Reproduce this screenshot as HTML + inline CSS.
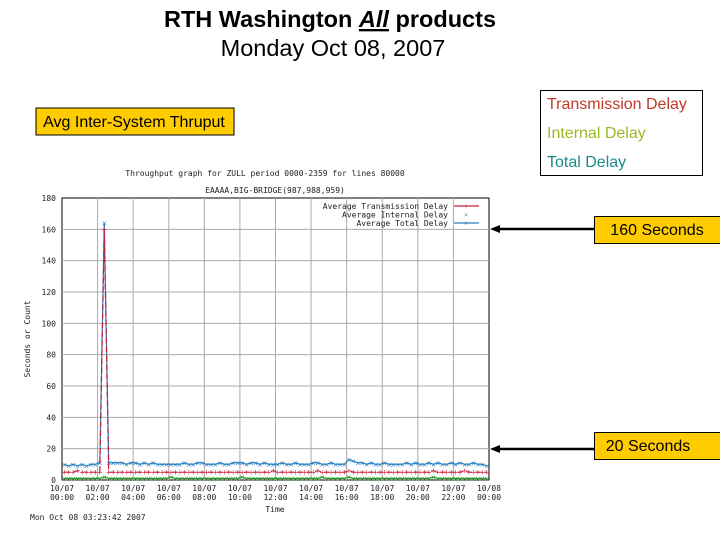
<!DOCTYPE html>
<html><head><meta charset="utf-8"><style>
body{margin:0;background:#fff}
svg{display:block}
.mono{font-family:"DejaVu Sans Mono","Liberation Mono",monospace;font-size:8px;fill:#222}
</style></head><body>
<svg id="chart" width="720" height="540" viewBox="0 0 720 540" xmlns="http://www.w3.org/2000/svg">
<text x="330" y="27" text-anchor="middle" font-family="Liberation Sans, sans-serif" font-size="23.5" font-weight="bold">RTH Washington <tspan font-style="italic" text-decoration="underline">All</tspan> products</text>
<text x="333" y="56" text-anchor="middle" font-family="Liberation Sans, sans-serif" font-size="23.5">Monday Oct 08, 2007</text>
<g><rect x="36" y="108" width="198" height="27" fill="#ffcc00" stroke="#000" stroke-width="1"/><text x="134" y="127" text-anchor="middle" font-family="Liberation Sans, sans-serif" font-size="16">Avg Inter-System Thruput</text></g>
<g><rect x="540.5" y="90.5" width="162" height="85" fill="#fff" stroke="#000"/>
<text x="547" y="109" font-family="Liberation Sans, sans-serif" font-size="16" fill="#c0392b">Transmission Delay</text>
<text x="547" y="138" font-family="Liberation Sans, sans-serif" font-size="16" fill="#9aba22">Internal Delay</text>
<text x="547" y="167" font-family="Liberation Sans, sans-serif" font-size="16" fill="#1a8a8a">Total Delay</text></g>
<g><rect x="594.5" y="216.5" width="130" height="27" fill="#ffcc00" stroke="#000"/><text x="657" y="235" text-anchor="middle" font-family="Liberation Sans, sans-serif" font-size="16">160 Seconds</text>
<line x1="594" y1="229" x2="496" y2="229" stroke="#000" stroke-width="2.5"/><polygon points="490,229 500,225 500,233" fill="#000"/></g>
<g><rect x="594.5" y="432.5" width="130" height="27" fill="#ffcc00" stroke="#000"/><text x="648" y="451" text-anchor="middle" font-family="Liberation Sans, sans-serif" font-size="16">20 Seconds</text>
<line x1="594" y1="449" x2="496" y2="449" stroke="#000" stroke-width="2.5"/><polygon points="490,449 500,445 500,453" fill="#000"/></g>
<text class="mono" x="265" y="176" text-anchor="middle">Throughput graph for ZULL period 0000-2359 for lines 80000</text>
<text class="mono" x="275" y="193" text-anchor="middle">EAAAA,BIG-BRIDGE(987,988,959)</text>
<text class="mono" transform="translate(30,339) rotate(-90)" text-anchor="middle">Seconds or Count</text>
<text class="mono" x="275" y="512" text-anchor="middle">Time</text>
<text class="mono" x="30" y="520">Mon Oct 08 03:23:42 2007</text>
<g id="plot"></g>
</svg>
<script>
const yTicks=[0,20,40,60,80,100,120,140,160,180];
const xTickLabels=[["10/07","00:00"],["10/07","02:00"],["10/07","04:00"],["10/07","06:00"],["10/07","08:00"],["10/07","10:00"],["10/07","12:00"],["10/07","14:00"],["10/07","16:00"],["10/07","18:00"],["10/07","20:00"],["10/07","22:00"],["10/08","00:00"]];
const totalDelay=[10,9,10,9,10,9,10,10,11,164,11,11,11,11,10,11,11,10,11,10,11,10,10,10,10,10,10,11,10,10,11,11,10,10,10,11,10,10,11,11,11,10,11,11,10,11,10,10,10,11,10,10,11,10,10,10,11,11,10,10,11,10,10,10,13,12,11,11,10,11,10,10,11,10,10,10,10,11,10,11,10,10,11,10,11,10,10,11,10,11,10,10,11,10,10,9];
const transmissionDelay=[5,5,5,6,5,5,5,5,5,160,5,5,5,5,5,5,5,5,5,5,5,5,5,5,5,5,5,5,5,5,5,5,5,5,5,5,5,5,5,5,5,5,5,5,5,5,5,6,5,5,5,5,5,5,5,5,5,6,5,5,5,5,5,5,6,5,5,5,5,5,5,5,5,5,5,5,5,5,5,5,5,5,5,6,5,5,5,5,5,5,6,5,5,5,5,5];
const internalDelay=[1,1,1,1,1,1,1,1,1,2,1,1,1,1,1,1,1,1,1,1,1,1,1,1,2,1,1,1,1,1,1,1,1,1,1,1,1,1,1,1,2,1,1,1,1,1,1,1,1,1,1,1,1,1,1,1,1,1,2,1,1,1,1,1,2,1,1,1,1,1,1,1,1,1,1,1,1,1,1,1,1,1,1,2,1,1,1,1,1,1,1,1,1,1,1,1];
const L=62,R=489,T=198,B=480,NS="http://www.w3.org/2000/svg";
const yMax=180, nPts=96;
const ys=v=>B-(v/yMax)*(B-T);
const xs=i=>L+(i+0.5)*(R-L)/nPts;
const xg=k=>L+k*(R-L)/(xTickLabels.length-1);
const plot=document.getElementById('plot');
function mk(tag,a){const e=document.createElementNS(NS,tag);for(const k in a)e.setAttribute(k,a[k]);plot.appendChild(e);return e;}
let e=mk('rect',{x:L,y:T,width:R-L,height:B-T,fill:'#fff',stroke:'#000','stroke-width':1});


yTicks.forEach(v=>{
 if(v>0&&v<yMax){const g=mk('line',{x1:L,x2:R,y1:ys(v),y2:ys(v),stroke:'#aaa','stroke-width':1});
 
 }
 const t=mk('text',{x:L-6,y:ys(v)+3,'text-anchor':'end',class:'mono'});t.textContent=v;
 
 
});
xTickLabels.forEach((lb,k)=>{
 if(k>0&&k<xTickLabels.length-1){const g=mk('line',{x1:xg(k),x2:xg(k),y1:T,y2:B,stroke:'#aaa','stroke-width':1});
 
 }
 const t=mk('text',{x:xg(k),y:B+11,'text-anchor':'middle',class:'mono'});
 t.innerHTML='<tspan x="'+xg(k)+'">'+lb[0]+'</tspan><tspan x="'+xg(k)+'" dy="9">'+lb[1]+'</tspan>';
 
 
});
function series(arr,color,name,marker,dash){
 const pts=arr.map((v,i)=>xs(i)+','+ys(v)).join(' ');
 const p=mk('polyline',{points:pts,fill:'none',stroke:color,'stroke-width':1.2});
 if(dash)p.setAttribute('stroke-dasharray',dash);
 
 
 arr.forEach((v,i)=>{const t=mk('text',{x:xs(i),y:ys(v)+2.5,'text-anchor':'middle','font-size':'7',fill:color,'font-family':'DejaVu Sans, sans-serif'});t.textContent=marker;
 
 });
}
series(internalDelay,'#2e9a2e','internal-delay-series','×',null);
series(totalDelay,'#2a7fc0','total-delay-series','×',null);
series(transmissionDelay,'#c0203a','transmission-delay-series','+','6,3');
const legend=[['Average Transmission Delay','#c0203a','+'],['Average Internal Delay','#2e9a2e','×'],['Average Total Delay','#2a7fc0','×']];
legend.forEach((l,i)=>{const y=206+i*8.5;
 const t=mk('text',{x:448,y:y+3,'text-anchor':'end',class:'mono'});t.textContent=l[0];
 
 
 if(i!==1){const ln=mk('line',{x1:454,x2:479,y1:y,y2:y,stroke:l[1],'stroke-width':1.2});
 
 }
 const m=mk('text',{x:466,y:y+3,'text-anchor':'middle','font-size':'8',fill:l[1]});m.textContent=l[2];
 
 
});
</script>
</body></html>
